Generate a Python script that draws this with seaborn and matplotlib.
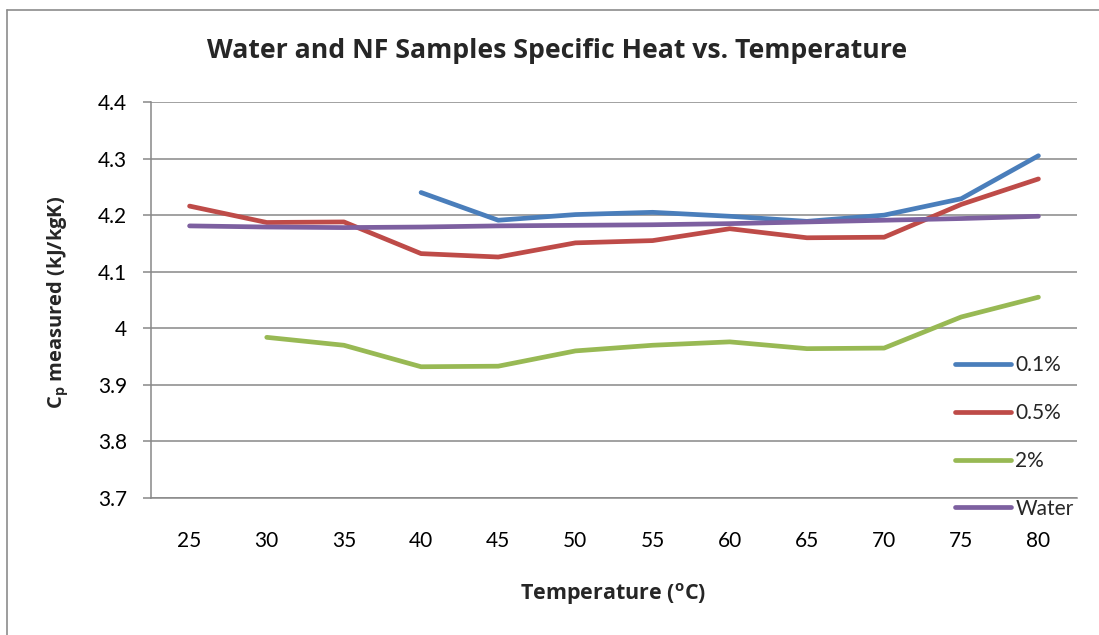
import numpy as np
import pandas as pd
import seaborn as sns
import matplotlib.pyplot as plt
from matplotlib.lines import Line2D

temps = [25, 30, 35, 40, 45, 50, 55, 60, 65, 70, 75, 80]
cp_01 = [np.nan, np.nan, np.nan, 4.240, 4.191, 4.201, 4.205, 4.198, 4.189, 4.200, 4.229, 4.305]
cp_05 = [4.216, 4.187, 4.188, 4.132, 4.126, 4.151, 4.155, 4.176, 4.160, 4.161, 4.219, 4.264]
cp_2 = [np.nan, 3.984, 3.970, 3.932, 3.933, 3.960, 3.970, 3.976, 3.964, 3.965, 4.020, 4.055]
cp_water = [4.181, 4.179, 4.178, 4.179, 4.181, 4.182, 4.183, 4.185, 4.188, 4.191, 4.194, 4.198]
series_names = ["0.1%", "0.5%", "2%", "Water"]
colors = ["#4A7EBB", "#BE4B48", "#98B954", "#7D60A0"]
yticks = [3.7, 3.8, 3.9, 4.0, 4.1, 4.2, 4.3, 4.4]
ytick_labels = ["3.7", "3.8", "3.9", "4", "4.1", "4.2", "4.3", "4.4"]

frames = []
for name, vals in zip(series_names, [cp_01, cp_05, cp_2, cp_water]):
    frames.append(pd.DataFrame({"Temperature": temps, "Cp": vals, "Sample": name}))
df = pd.concat(frames, ignore_index=True).dropna()

sns.set_theme(style="white")
plt.rcParams['font.family'] = ['Lato', 'DejaVu Sans']
plt.rcParams['mathtext.fontset'] = 'custom'
plt.rcParams['mathtext.rm'] = 'Open Sans'
plt.rcParams['mathtext.bf'] = 'Open Sans:bold'
plt.rcParams['mathtext.it'] = 'Open Sans:italic'

fig = plt.figure(figsize=(10.99, 6.35), dpi=100)
W, H = 1099, 635
ax = fig.add_axes([151 / W, 1 - 498 / H, (1077 - 151) / W, (498 - 102) / H])

sns.lineplot(data=df, x="Temperature", y="Cp", hue="Sample", hue_order=series_names,
             palette=colors, linewidth=3.4, ax=ax, legend=True)
for ln in ax.get_lines():
    ln.set_solid_capstyle('round')
    ln.set_solid_joinstyle('round')

handles, labels = ax.get_legend_handles_labels()
ax.get_legend().remove()

ax.set_xlim(22.5, 82.5)
ax.set_ylim(3.7, 4.4)
ax.set_xticks(temps)
ax.set_xticklabels([str(t) for t in temps])
ax.set_yticks(yticks)
ax.set_yticklabels(ytick_labels)
grid_c = "#888888"
ax.grid(axis='y', color=grid_c, linewidth=1.1)
ax.set_axisbelow(True)
for s in ["top", "right"]:
    ax.spines[s].set_visible(False)
for s in ["left", "bottom"]:
    ax.spines[s].set_color(grid_c)
    ax.spines[s].set_linewidth(1.1)
ax.tick_params(axis='x', length=0, pad=24, labelsize=15, colors='black')
ax.tick_params(axis='y', left=True, length=6, width=1.1, color=grid_c, pad=11, labelsize=15, labelcolor='black')
ax.set_xlabel("")
ax.set_ylabel("")

leg = ax.legend(handles, labels, loc='center left', bbox_to_anchor=(955 / W, 1 - 437 / H),
                bbox_transform=fig.transFigure, frameon=False, fontsize=15,
                handlelength=2.7, handletextpad=0.2, labelspacing=1.33, borderpad=0,
                borderaxespad=0)
for h in leg.get_lines():
    h.set_linewidth(3.4)
    h.set_solid_capstyle('round')

bold_font = ['Open Sans', 'DejaVu Sans']
fig.text(557 / W, 1 - 51 / H, "Water and NF Samples Specific Heat vs. Temperature",
         ha='center', va='center', fontsize=19.2, fontweight='bold', family=bold_font)
fig.text(613 / W, 1 - 594 / H, r"Temperature ($^{\mathbf{o}}$C)",
         ha='center', va='center', fontsize=15.5, fontweight='bold', family=bold_font)
fig.text(58 / W, 1 - 302 / H, r"C$_{\mathbf{p}}$ measured (kJ/kgK)",
         ha='center', va='center', fontsize=14.5, fontweight='bold', rotation=90, family=bold_font)

# outer chart border (partially cut off at right/bottom)
fig.add_artist(Line2D([7 / W, 7 / W], [0, 1 - 10 / H], transform=fig.transFigure, color="#8c8c8c", linewidth=1.2))
fig.add_artist(Line2D([7 / W, 1], [1 - 10 / H, 1 - 10 / H], transform=fig.transFigure, color="#8c8c8c", linewidth=1.2))

fig.savefig("out.png", dpi=100)
